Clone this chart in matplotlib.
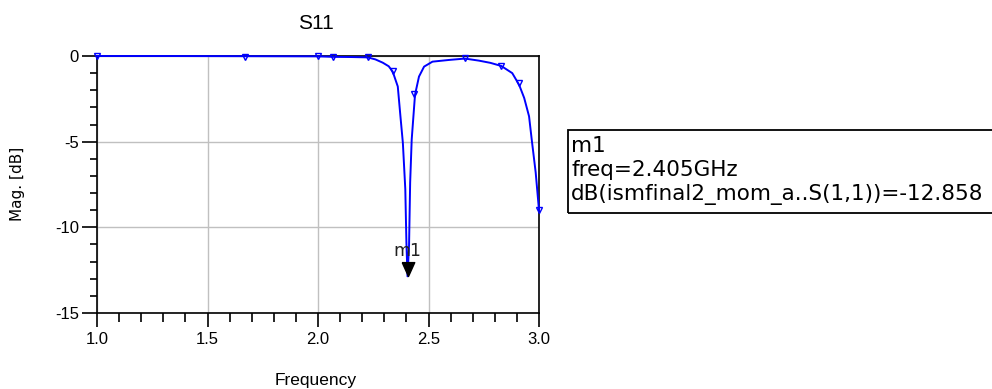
import numpy as np
import matplotlib
matplotlib.use("Agg")
import matplotlib.pyplot as plt
from matplotlib.patches import Rectangle
from matplotlib.ticker import MultipleLocator

plt.rcParams['font.family'] = ['Liberation Sans', 'DejaVu Sans']

# S11 sweep (GHz, dB)
freq = [1.0, 1.3, 1.67, 2.0, 2.07, 2.15, 2.225, 2.26, 2.293, 2.32, 2.338,
        2.361, 2.373, 2.384, 2.395, 2.400, 2.405, 2.412, 2.417, 2.424, 2.439,
        2.457, 2.48, 2.518, 2.593, 2.665, 2.728, 2.78, 2.829, 2.879, 2.91,
        2.933, 2.955, 2.967, 2.985, 3.0]
s11_db = [0.0, 0.0, -0.01, -0.02, -0.05, -0.06, -0.08, -0.2, -0.39, -0.6, -0.91,
          -1.78, -3.52, -5.07, -7.77, -10.86, -12.858, -11.05, -7.38, -4.87, -2.26,
          -1.2, -0.62, -0.33, -0.23, -0.15, -0.27, -0.4, -0.58, -1.0, -1.68,
          -2.45, -3.52, -4.87, -6.8, -9.0]

# sweep-point symbols drawn on the trace
pt_freq = [1.0, 1.67, 2.0, 2.07, 2.225, 2.338, 2.435, 2.665, 2.829, 2.91, 3.0]
pt_db = [0.0, -0.05, -0.02, -0.08, -0.05, -0.85, -2.2, -0.1, -0.58, -1.6, -9.0]

# marker m1
m1_freq = 2.405
m1_db = -12.858
m1_lines = ["m1", "freq=2.405GHz", "dB(ismfinal2_mom_a..S(1,1))=-12.858"]

xticks = [1.0, 1.5, 2.0, 2.5, 3.0]
yticks = [0, -5, -10, -15]

W, H = 992, 389
fig = plt.figure(figsize=(W / 100, H / 100), dpi=100)
ax = fig.add_axes([97 / W, 1 - 313 / H, (539 - 97) / W, (313 - 56) / H])

blue = '#0000ff'
ax.plot(freq, s11_db, color=blue, lw=1.4, zorder=3, clip_on=False)
ax.plot(pt_freq, pt_db, ls='none', marker='v', ms=5, mfc='none', mec=blue,
        mew=1, zorder=4, clip_on=False)

# marker triangle, tip on the data point
tri = [(-0.45, 1.0), (0.45, 1.0), (0.0, 0.0), (-0.45, 1.0)]
ax.plot([m1_freq], [m1_db], ls='none', marker=tri, ms=20, color='black',
        zorder=5, clip_on=False)
ax.annotate("m1", (m1_freq, m1_db), xytext=(0, 12), textcoords='offset points',
            ha='center', va='bottom', fontsize=12.5, color='#202020',
            family=['DejaVu Sans'])

ax.set_xlim(1.0, 3.0)
ax.set_ylim(-15, 0)
ax.xaxis.set_minor_locator(MultipleLocator(0.1))
ax.yaxis.set_minor_locator(MultipleLocator(1))
ax.set_xticks(xticks, [f'{v:.1f}' for v in xticks])
ax.set_yticks(yticks, [str(v) for v in yticks])
ax.tick_params(which='major', direction='out', width=1.2, labelsize=12)
ax.tick_params(axis='x', which='major', length=10, pad=3.5)
ax.tick_params(axis='y', which='major', length=11, pad=2)
ax.tick_params(axis='x', which='minor', length=6.5, width=1.2)
ax.tick_params(axis='y', which='minor', length=5, width=1.2)
ax.grid(True, which='major', color='#c0c0c0', lw=1)
for s in ax.spines.values():
    s.set_linewidth(1.2)
    s.set_color('black')

fig.text(316 / W, 1 - 23.5 / H, "S11", ha='center', va='center', fontsize=15)
fig.text(17.5 / W, 1 - 183.5 / H, "Mag. [dB]", ha='center', va='center',
         rotation=90, fontsize=11, family=['DejaVu Sans'])
fig.text(316 / W, 1 - 380 / H, "Frequency", ha='center', va='center',
         fontsize=12.5)

# marker readout box, runs off the right edge like the source
fig.patches.append(Rectangle((568 / W, 1 - 213 / H), 500 / W, 83 / H,
                             transform=fig.transFigure, fill=False,
                             edgecolor='black', lw=1.3))
for i, line in enumerate(m1_lines):
    fig.text(571 / W, 1 - (146 + 24 * i) / H, line, ha='left', va='center',
             fontsize=15.5, family=['DejaVu Sans'])

fig.savefig("out.png", dpi=100)
